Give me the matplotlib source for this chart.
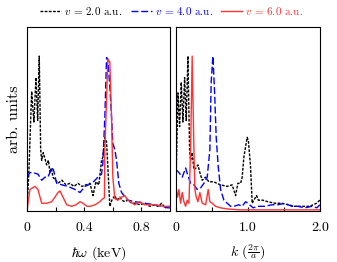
import numpy as np
import matplotlib.pyplot as plt

plt.rcParams['font.family'] = 'serif'
plt.rcParams['font.serif'] = ['cmr10', 'DejaVu Serif']
plt.rcParams['mathtext.fontset'] = 'cm'
plt.rcParams['axes.formatter.use_mathtext'] = True

# spectra vs photon energy (keV), normalised to peak ~1
w_v2 = [0, 0.014, 0.033, 0.042, 0.049, 0.063, 0.075, 0.086, 0.096, 0.103, 0.114, 0.138, 0.150,
        0.161, 0.171, 0.182, 0.217, 0.245, 0.273, 0.301, 0.329, 0.357, 0.385, 0.413, 0.441,
        0.462, 0.483, 0.503, 0.522, 0.531, 0.545, 0.557, 0.566, 0.580, 0.594, 0.615, 0.629,
        0.650, 0.664, 0.685, 0.706, 0.734, 0.762, 0.790, 0.825, 0.860, 0.895, 0.916, 0.944,
        0.965, 1.0]
s_v2 = [0, 0.27, 0.78, 0.66, 0.58, 0.87, 0.59, 1.01, 0.40, 0.33, 0.38, 0.30, 0.33,
        0.25, 0.28, 0.22, 0.18, 0.20, 0.17, 0.18, 0.16, 0.18, 0.16, 0.17, 0.18,
        0.10, 0.19, 0.17, 0.33, 0.35, 0.48, 0.45, 0.29, 0.03, 0.07, 0.10, 0.07,
        0.09, 0.07, 0.06, 0.07, 0.05, 0.05, 0.04, 0.05, 0.03, 0.04, 0.03, 0.05,
        0.02, 0.03]

w_v4 = [0, 0.021, 0.042, 0.077, 0.103, 0.126, 0.147, 0.173, 0.185, 0.208, 0.245, 0.287, 0.336,
        0.371, 0.406, 0.455, 0.497, 0.522, 0.531, 0.545, 0.557, 0.566, 0.580, 0.592, 0.601,
        0.615, 0.627, 0.643, 0.662, 0.706, 0.755, 0.825, 0.895, 0.944, 0.986, 1.0]
s_v4 = [0.22, 0.25, 0.25, 0.24, 0.20, 0.22, 0.22, 0.28, 0.27, 0.18, 0.17, 0.16, 0.14,
        0.12, 0.16, 0.18, 0.22, 0.24, 0.31, 0.61, 1.0, 0.99, 0.81, 0.61, 0.44,
        0.40, 0.33, 0.18, 0.12, 0.07, 0.06, 0.05, 0.04, 0.03, 0.02, 0.02]

w_v6 = [0, 0.021, 0.056, 0.077, 0.103, 0.138, 0.173, 0.196, 0.217, 0.231, 0.252, 0.278, 0.313,
        0.343, 0.371, 0.392, 0.420, 0.441, 0.476, 0.510, 0.531, 0.542, 0.545, 0.557, 0.566,
        0.580, 0.592, 0.601, 0.615, 0.636, 0.662, 0.685, 0.706, 0.755, 0.790, 0.825, 0.895,
        0.951, 1.0]
s_v6 = [0, 0.14, 0.16, 0.14, 0.05, 0.05, 0.06, 0.09, 0.12, 0.13, 0.09, 0.04, 0.03,
        0.04, 0.06, 0.05, 0.03, 0.03, 0.04, 0.06, 0.08, 0.085, 0.40, 0.73, 0.99,
        0.97, 0.61, 0.22, 0.08, 0.07, 0.09, 0.10, 0.07, 0.04, 0.06, 0.04, 0.04,
        0.03, 0.03]

# spectra vs wave number k (2pi/a)
k_v2 = [0, 0.028, 0.051, 0.074, 0.097, 0.121, 0.143, 0.167, 0.190, 0.204, 0.226, 0.25, 0.278,
        0.306, 0.333, 0.365, 0.41, 0.458, 0.528, 0.569, 0.621, 0.713, 0.782, 0.829, 0.861,
        0.899, 0.921, 0.944, 0.99, 1.007, 1.037, 1.06, 1.083, 1.121, 1.146, 1.208, 1.278,
        1.375, 1.472, 1.556, 1.653, 1.75, 1.861, 1.954, 2.0]
q_v2 = [0.14, 0.77, 0.55, 0.84, 0.58, 0.87, 0.59, 1.01, 0.40, 0.33, 0.38, 0.27, 0.28,
        0.30, 0.25, 0.20, 0.22, 0.19, 0.19, 0.18, 0.17, 0.16, 0.17, 0.10, 0.18,
        0.18, 0.22, 0.35, 0.48, 0.46, 0.29, 0.05, 0.07, 0.10, 0.07, 0.07, 0.06,
        0.05, 0.05, 0.04, 0.03, 0.03, 0.03, 0.05, 0.07]

k_v4 = [0, 0.042, 0.088, 0.135, 0.16, 0.204, 0.25, 0.296, 0.343, 0.389, 0.435, 0.472, 0.49,
        0.514, 0.538, 0.56, 0.588, 0.621, 0.667, 0.713, 0.76, 0.806, 0.875, 0.921, 0.968,
        1.0, 1.074, 1.139, 1.236, 1.333, 1.417, 1.514, 1.611, 1.694, 1.792, 1.889, 1.958, 2.0]
q_v4 = [0.27, 0.25, 0.22, 0.28, 0.24, 0.18, 0.17, 0.14, 0.15, 0.18, 0.22, 0.40, 0.84,
        1.01, 0.77, 0.48, 0.29, 0.14, 0.07, 0.05, 0.03, 0.03, 0.04, 0.03, 0.06,
        0.05, 0.02, 0.03, 0.03, 0.04, 0.04, 0.05, 0.03, 0.03, 0.02, 0.03, 0.02, 0.04]

k_v6 = [0, 0.024, 0.042, 0.065, 0.088, 0.111, 0.135, 0.157, 0.181, 0.204, 0.226, 0.25, 0.264,
        0.282, 0.306, 0.333, 0.365, 0.413, 0.449, 0.472, 0.504, 0.551, 0.621, 0.708, 0.889,
        1.167, 1.583, 2.0]
q_v6 = [0.16, 0.09, 0.14, 0.05, 0.12, 0.06, 0.03, 0.07, 0.05, 0.40, 1.01, 0.40, 0.14,
        0.09, 0.06, 0.12, 0.05, 0.04, 0.14, 0.06, 0.05, 0.03, 0.02, 0.013, 0.007,
        0.007, 0.007, 0.007]

labels = [r'$v$ = 2.0 a.u.', r'$v$ = 4.0 a.u.', r'$v$ = 6.0 a.u.']
colors = ['black', 'blue', '#ff3333']
styles = [(0, (2, 1)), (0, (5, 2)), '-']

fig = plt.figure(figsize=(3.37, 2.62), dpi=100)
ax1 = fig.add_axes([0.080, 0.195, 0.424, 0.702])
ax2 = fig.add_axes([0.522, 0.195, 0.427, 0.702])

for x, y, c, ls, lab in zip([w_v2, w_v4, w_v6], [s_v2, s_v4, s_v6], colors, styles, labels):
    ax1.plot(x, y, color=c, ls=ls, lw=1.0, label=lab)
for x, y, c, ls in zip([k_v2, k_v4, k_v6], [q_v2, q_v4, q_v6], colors, styles):
    ax2.plot(x, y, color=c, ls=ls, lw=1.0)

ax1.set_xlim(0, 1.0)
ax2.set_xlim(0, 2.0)
for ax in (ax1, ax2):
    ax.set_ylim(0, 1.2)
    ax.set_yticks([])
    ax.tick_params(axis='x', direction='in', top=False, labelsize=10, length=3, pad=8)
ax1.set_xticks([0, 0.2, 0.4, 0.6, 0.8])
ax1.set_xticklabels(['0', '', '0.4', '', '0.8'])
ax2.set_xticks([0, 0.5, 1.0, 1.5, 2.0])
ax2.set_xticklabels(['0', '', '1.0', '', '2.0'])

ax1.set_xlabel(r'$\hbar\omega$ (keV)', fontsize=10, labelpad=7)
ax2.set_xlabel(r'$k$ ($\frac{2\pi}{a}$)', fontsize=10, labelpad=6)
ax1.set_ylabel('arb. units', fontsize=11.5)

fig.legend(loc='upper center', bbox_to_anchor=(0.51, 1.02), ncol=3, frameon=False,
           fontsize=8, handlelength=1.9, handletextpad=0.3, columnspacing=0.7,
           labelcolor='linecolor')

fig.savefig('out.png', dpi=100)
